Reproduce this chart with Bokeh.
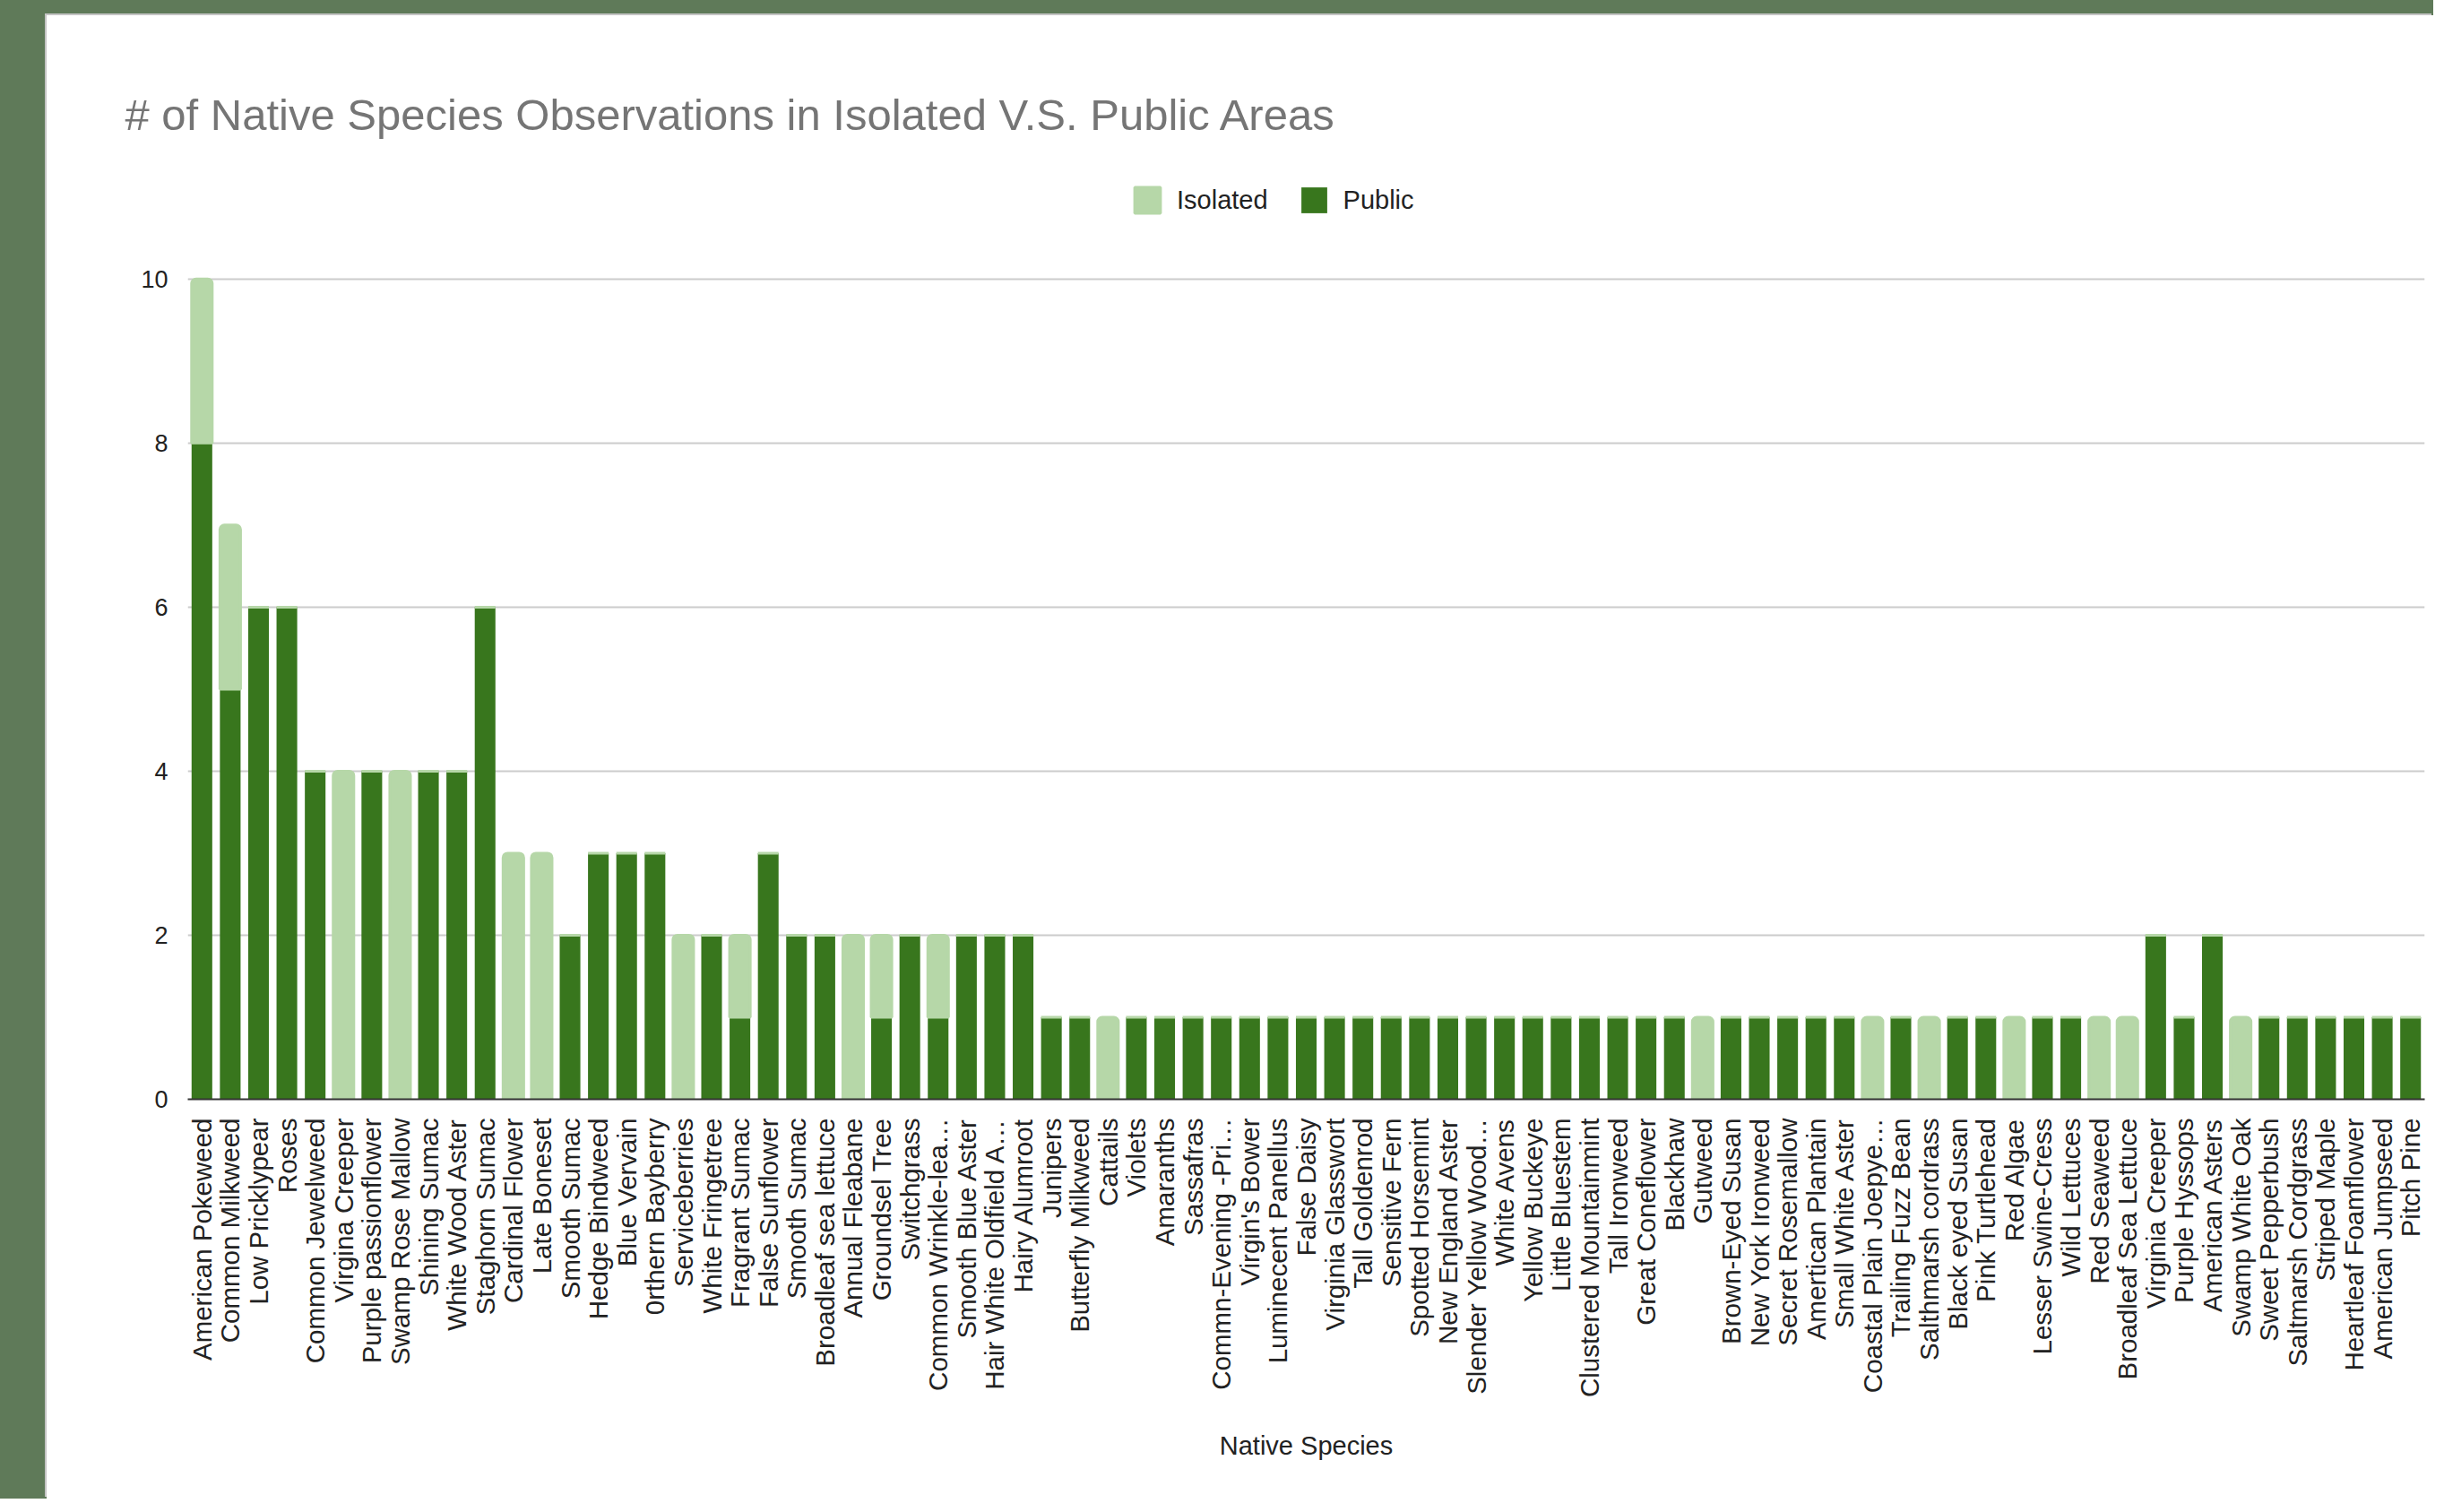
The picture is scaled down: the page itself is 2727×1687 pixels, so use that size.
import math
from bokeh.plotting import figure
from bokeh.models import (Range1d, FixedTicker, Legend, LegendItem, ColumnDataSource)
from bokeh.layouts import column
from bokeh.embed import file_html
from bokeh.resources import INLINE

title_text = "# of Native Species Observations in Isolated V.S. Public Areas"
x_title = "Native Species"

species = [
    "American Pokeweed", "Common Milkweed", "Low Pricklypear", "Roses",
    "Common Jewelweed", "Virgina Creeper", "Purple passionflower",
    "Swamp Rose Mallow", "Shining Sumac", "White Wood Aster", "Staghorn Sumac",
    "Cardinal Flower", "Late Boneset", "Smooth Sumac", "Hedge Bindweed",
    "Blue Vervain", "0rthern Bayberry", "Serviceberries", "White Fringetree",
    "Fragrant Sumac", "False Sunflower", "Smooth Sumac", "Broadleaf sea lettuce",
    "Annual Fleabane", "Groundsel Tree", "Switchgrass", "Common Wrinkle-lea…",
    "Smooth Blue Aster", "Hair White Oldfield A…", "Hairy Alumroot", "Junipers",
    "Butterfly Milkweed", "Cattails", "Violets", "Amaranths", "Sassafras",
    "Commn-Evening -Pri…", "Virgin's Bower", "Luminecent Panellus",
    "False Daisy", "Virginia Glasswort", "Tall Goldenrod", "Sensitive Fern",
    "Spotted Horsemint", "New England Aster", "Slender Yellow Wood…",
    "White Avens", "Yellow Buckeye", "Little Bluestem", "Clustered Mountainmint",
    "Tall Ironweed", "Great Coneflower", "Blackhaw", "Gutweed",
    "Brown-Eyed Susan", "New York Ironweed", "Secret Rosemallow",
    "Amertican Plantain", "Small White Aster", "Coastal Plain Joepye…",
    "Trailing Fuzz Bean", "Salthmarsh cordrass", "Black eyed Susan",
    "Pink Turtlehead", "Red Algae", "Lesser Swine-Cress", "Wild Lettuces",
    "Red Seaweed", "Broadleaf Sea Lettuce", "Virginia Creeper", "Purple Hyssops",
    "American Asters", "Swamp White Oak", "Sweet Pepperbush",
    "Saltmarsh Cordgrass", "Striped Maple", "Heartleaf Foamflower",
    "American Jumpseed", "Pitch Pine",
]

public = [
    8, 5, 6, 6, 4, 0, 4, 0, 4, 4, 6,
    0, 0, 2, 3, 3, 3, 0, 2, 1, 3, 2, 2,
    0, 1, 2, 1, 2, 2, 2, 1, 1, 0, 1,
    1, 1, 1, 1, 1, 1, 1, 1, 1, 1, 1, 1, 1, 1, 1, 1, 1, 1, 1,
    0, 1, 1, 1, 1, 1, 0, 1, 0, 1, 1, 0, 1, 1, 0, 0,
    2, 1, 2, 0, 1, 1, 1, 1, 1, 1,
]

isolated = [
    2, 2, 0, 0, 0, 4, 0, 4, 0, 0, 0,
    3, 3, 0, 0, 0, 0, 2, 0, 1, 0, 0, 0,
    2, 1, 0, 1, 0, 0, 0, 0, 0, 1, 0,
    0, 0, 0, 0, 0, 0, 0, 0, 0, 0, 0, 0, 0, 0, 0, 0, 0, 0, 0,
    1, 0, 0, 0, 0, 0, 1, 0, 1, 0, 0, 1, 0, 0, 1, 1,
    0, 0, 0, 1, 0, 0, 0, 0, 0, 0,
]

y_ticks = [0, 2, 4, 6, 8, 10]

DARK = "#38761d"
LIGHT = "#b6d7a8"
BG = "#5f7a59"
FONT = "Liberation Sans"

n = len(species)
xs = list(range(n))
src = ColumnDataSource(dict(
    x=xs,
    public=public,
    top=[a + b for a, b in zip(public, isolated)],
))

# frame extends above the top gridline so that the legend can sit inside it
p = figure(
    frame_width=2496, frame_height=1036,
    x_range=Range1d(-0.5, n - 0.5), y_range=Range1d(0, 11.32),
    output_backend="svg", toolbar_location=None,
    title=title_text,
    min_border_left=157, min_border_right=10,
    min_border_top=173, min_border_bottom=446,
    styles={"box-shadow": "-2px -2px 0 0 #c4c4c4"},
)
p.background_fill_color = "white"
p.border_fill_color = "white"
p.outline_line_color = None

p.title.text_font = FONT
p.title.text_font_size = "49px"
p.title.text_font_style = "normal"
p.title.text_color = "#757575"
p.title.align = "left"
p.title.offset = -70
p.title.standoff = 71

r_pub = p.vbar(x="x", width=0.73, bottom=0, top="public", source=src,
               fill_color=DARK, line_color=None)
r_iso = p.vbar(x="x", width=0.73, bottom="public", top="top", source=src,
               fill_color=LIGHT, line_color=LIGHT, line_width=3,
               border_radius=(5, 5, 0, 0))

legend = Legend(
    items=[LegendItem(label="Isolated", renderers=[r_iso]),
           LegendItem(label="Public", renderers=[r_pub])],
    orientation="horizontal", location=(1053, 985),
    border_line_color=None, background_fill_alpha=0,
    padding=0, margin=0, glyph_width=36, glyph_height=36,
    label_text_font=FONT, label_text_font_size="29px",
    label_text_color="#222222", label_standoff=15, spacing=33,
)
p.add_layout(legend)

p.xaxis.ticker = FixedTicker(ticks=xs)
p.xaxis.major_label_overrides = {i: s for i, s in enumerate(species)}
p.xaxis.major_label_orientation = math.pi / 2
p.xaxis.major_label_text_font = FONT
p.xaxis.major_label_text_font_size = "29.5px"
p.xaxis.major_label_text_color = "#222222"
p.xaxis.major_label_standoff = 15
p.xaxis.major_tick_line_color = None
p.xaxis.minor_tick_line_color = None
p.xaxis.axis_line_color = "#333333"
p.xaxis.axis_line_width = 2
p.xaxis.axis_label = x_title
p.xaxis.axis_label_text_font = FONT
p.xaxis.axis_label_text_font_size = "29px"
p.xaxis.axis_label_text_font_style = "normal"
p.xaxis.axis_label_text_color = "#222222"
p.xaxis.axis_label_standoff = 35

p.yaxis.ticker = FixedTicker(ticks=y_ticks)
p.yaxis.axis_line_color = None
p.yaxis.major_tick_line_color = None
p.yaxis.minor_tick_line_color = None
p.yaxis.major_label_text_font = FONT
p.yaxis.major_label_text_font_size = "27px"
p.yaxis.major_label_text_color = "#222222"
p.yaxis.major_label_standoff = 16

p.xgrid.visible = False
p.ygrid.grid_line_color = "#cccccc"
p.ygrid.grid_line_width = 2

layout = column(p, styles={
    "background-color": "white",
    "border-left": "60px solid " + BG,
    "border-top": "25px solid " + BG,
    "margin-left": "-8px",
    "margin-top": "-8px",
})

open("out.html", "w").write(file_html(layout, INLINE))
